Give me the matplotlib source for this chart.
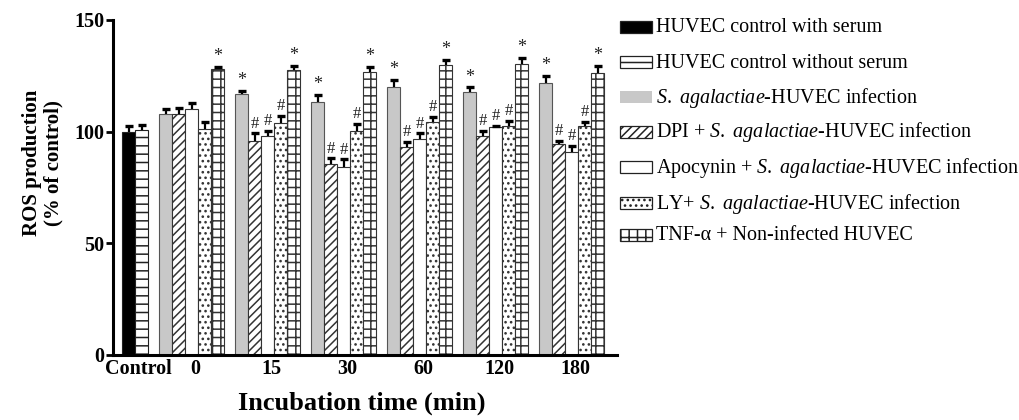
import matplotlib.pyplot as plt
from matplotlib.patches import Rectangle
import numpy as np

plt.rcParams['font.family'] = 'Liberation Serif'
plt.rcParams['mathtext.fontset'] = 'custom'
plt.rcParams['mathtext.rm'] = 'Liberation Serif'
plt.rcParams['mathtext.it'] = 'Liberation Serif:italic'
plt.rcParams['hatch.linewidth'] = 1.1

# data
times = ['0', '15', '30', '60', '120', '180']
control_labels = ['HUVEC control with serum', 'HUVEC control without serum']
control_vals = [100.0, 100.7]
control_err = [2.7, 2.3]

series_labels = [
    r'$\it{S.}$ $\it{agalactiae}$-HUVEC infection',
    r'DPI + $\it{S.}$ $\it{agalactiae}$-HUVEC infection',
    r'Apocynin + $\it{S.}$ $\it{agalactiae}$-HUVEC infection',
    r'LY+ $\it{S.}$ $\it{agalactiae}$-HUVEC infection',
    'TNF-α + Non-infected HUVEC',
]
infected = [107.8, 116.9, 113.4, 120.1, 117.9, 121.9]
infected_err = [2.2, 1.3, 3.0, 3.0, 1.9, 3.0]
dpi_vals = [108.0, 96.0, 85.5, 93.0, 98.0, 94.5]
dpi_err = [2.7, 3.2, 2.5, 2.5, 2.4, 1.5]
apocynin = [110.0, 98.2, 84.3, 96.7, 101.9, 91.0]
apocynin_err = [2.7, 2.1, 3.3, 2.5, 0.6, 2.7]
ly_vals = [101.2, 104.0, 100.4, 104.5, 102.5, 102.5]
ly_err = [3.0, 3.0, 3.0, 2.2, 2.4, 2.0]
tnf = [128.0, 127.6, 126.9, 129.9, 130.3, 126.4]
tnf_err = [1.0, 1.8, 2.1, 2.2, 2.8, 3.0]

infected_marks = ['', '*', '*', '*', '*', '*']
dpi_marks = ['', '#', '#', '#', '#', '#']
apocynin_marks = ['', '#', '#', '#', '#', '#']
ly_marks = ['', '#', '#', '#', '#', '#']
tnf_marks = ['*', '*', '*', '*', '*', '*']

series = [
    (infected, infected_err, infected_marks, '#c8c8c8', ''),
    (dpi_vals, dpi_err, dpi_marks, 'white', '////'),
    (apocynin, apocynin_err, apocynin_marks, 'white', ''),
    (ly_vals, ly_err, ly_marks, 'white', '...'),
    (tnf, tnf_err, tnf_marks, 'white', '++'),
]
control_styles = [('black', ''), ('white', '--')]

fig = plt.figure(figsize=(10.19, 4.2), dpi=100)
ax = fig.add_axes([0.1109, 0.1548, 0.4946, 0.7976])

w = 13 / 76
x = np.arange(len(times))
ctrl_left = -37 / 76


def upper_err(xs, vals, errs):
    xs, vals, errs = np.asarray(xs), np.asarray(vals), np.asarray(errs)
    ax.vlines(xs, vals, vals + errs, color='black', lw=1.6, zorder=3)
    ax.plot(xs, vals + errs, ls='none', marker='_', ms=6, mew=2.4, color='black', zorder=3)


legend_items = []
for i, (val, err, (fc, hatch)) in enumerate(zip(control_vals, control_err, control_styles)):
    ax.bar(ctrl_left + i * w, val, w, align='edge', color=fc, hatch=hatch,
           edgecolor='#222222', linewidth=0.8)
    upper_err([ctrl_left + (i + 0.5) * w], [val], [err])
    legend_items.append((fc, hatch, '#222222'))

for i, (vals, errs, marks, fc, hatch) in enumerate(series):
    left = x + i * w
    ax.bar(left, vals, w, align='edge', color=fc, hatch=hatch,
           edgecolor='#555555' if fc != 'white' else '#333333', linewidth=0.8)
    upper_err(left + w / 2, vals, errs)
    for xi, v, e, m in zip(left + w / 2, vals, errs, marks):
        if m:
            ax.text(xi, v + e + 0.8, m, ha='center', va='bottom',
                    fontsize=13 if m == '*' else 12, color='#222222')
    legend_items.append((fc, hatch, 'none' if fc != 'white' else '#222222'))

shift = 3.5 / 76
ax.set_xlim(-46 / 76, 458 / 76)
ax.set_ylim(0, 150)
ax.set_yticks([0, 50, 100, 150])
ax.set_xticks([ctrl_left + w + shift] + list(x + 2.5 * w + shift))
ax.set_xticklabels(['Control'] + times)
ax.tick_params(axis='x', length=0, pad=3, labelsize=14.5)
ax.tick_params(axis='y', length=5, width=2, pad=1, labelsize=14.5)
for lab in ax.get_xticklabels() + ax.get_yticklabels():
    lab.set_fontweight('bold')
for s in ['top', 'right']:
    ax.spines[s].set_visible(False)
for s in ['left', 'bottom']:
    ax.spines[s].set_linewidth(2.2)

ax.set_ylabel('ROS production\n(% of control)', fontsize=15, fontweight='bold',
              linespacing=1.05)
ax.yaxis.set_label_coords(-0.099, 0.573)
ax.set_xlabel('Incubation time (min)', fontsize=19, fontweight='bold')
ax.xaxis.set_label_coords(0.494, -0.108)
ax.xaxis.label.set_va('top')

# legend, drawn as figure patches + texts (rows in pixels from top)
W, H = 1019, 420
row_y = [27, 62, 97, 132, 167, 203, 235]
for (fc, hatch, ec), label, yc in zip(legend_items, control_labels + series_labels, row_y):
    fig.add_artist(Rectangle((620 / W, 1 - (yc + 6) / H), 32 / W, 12 / H,
                             transform=fig.transFigure, facecolor=fc, hatch=hatch,
                             edgecolor=ec, linewidth=0.9))
    fig.text(656 / W, 1 - (yc + 5.5) / H, label, fontsize=14.5, va='baseline', ha='left')

fig.savefig('out.png', dpi=100)
